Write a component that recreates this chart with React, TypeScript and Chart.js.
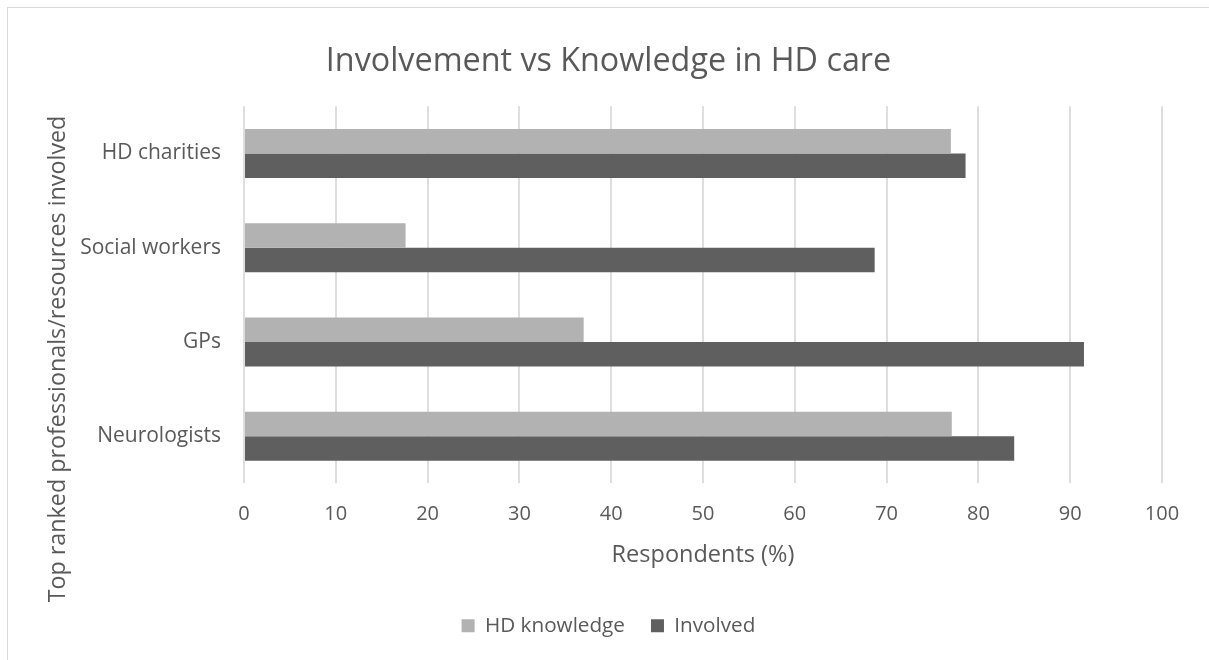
import React, { useEffect, useRef } from "react";
import { Chart, registerables } from "chart.js";

Chart.register(...registerables);

const categories = ["HD charities", "Social workers", "GPs", "Neurologists"];
const hdKnowledge = [77.0, 17.6, 37.0, 77.1];
const involved = [78.6, 68.7, 91.5, 83.9];
const xTicks = [0, 10, 20, 30, 40, 50, 60, 70, 80, 90, 100];

const TEXT = "#595959";
const FONT = "'Open Sans', 'Noto Sans', sans-serif";

export default function App() {
  const ref = useRef<HTMLCanvasElement | null>(null);

  useEffect(() => {
    if (!ref.current) return;
    const yTitlePlugin = {
      id: "yTitleCustom",
      afterDraw(chart: any) {
        const ctx = chart.ctx;
        ctx.save();
        ctx.translate(58, 359);
        ctx.rotate(-Math.PI / 2);
        ctx.textAlign = "center";
        ctx.textBaseline = "middle";
        ctx.fillStyle = TEXT;
        ctx.font = `23.3px ${FONT}`;
        ctx.fillText("Top ranked professionals/resources involved", 0, 0);
        ctx.restore();
      },
    };
    const chart = new Chart(ref.current, {
      type: "bar",
      data: {
        labels: categories,
        datasets: [
          {
            label: "HD knowledge",
            data: hdKnowledge,
            backgroundColor: "#b2b2b2",
            borderWidth: 0,
            categoryPercentage: 0.52,
            barPercentage: 1,
          },
          {
            label: "Involved",
            data: involved,
            backgroundColor: "#5f5f5f",
            borderWidth: 0,
            categoryPercentage: 0.52,
            barPercentage: 1,
          },
        ],
      },
      options: {
        indexAxis: "y",
        animation: false,
        responsive: false,
        devicePixelRatio: 1,
        layout: { padding: { left: 8, right: 0, top: 0, bottom: 14 } },
        plugins: {
          title: {
            display: true,
            text: "Involvement vs Knowledge in HD care",
            color: TEXT,
            font: { family: FONT, size: 32.3, weight: "normal" },
            padding: { top: 42, bottom: 25.6 },
          },
          legend: {
            position: "bottom",
            labels: {
              color: TEXT,
              font: { family: FONT, size: 20.7 },
              boxWidth: 13,
              boxHeight: 13,
              padding: 26,
            },
          },
          tooltip: { enabled: false },
        },
        scales: {
          x: {
            type: "linear",
            min: 0,
            max: 100,
            afterBuildTicks(scale: any) {
              scale.ticks = xTicks.map((v) => ({ value: v }));
            },
            ticks: {
              color: TEXT,
              font: { family: FONT, size: 20 },
              padding: 19,
            },
            grid: { color: "#dedede", lineWidth: 2, drawTicks: false },
            border: { display: false },
            title: {
              display: true,
              text: "Respondents (%)",
              color: TEXT,
              font: { family: FONT, size: 23.5 },
              padding: { top: 0, bottom: 20 },
            },
            afterFit(scale: any) {
              scale.height = 106;
            },
          },
          y: {
            type: "category",
            grid: { display: false, drawTicks: false },
            border: { display: false },
            ticks: {
              color: TEXT,
              font: { family: FONT, size: 21 },
              padding: 23,
            },
            afterFit(scale: any) {
              scale.width = 236;
            },
          },
          y2: {
            type: "category",
            position: "right",
            labels: categories,
            grid: { display: false, drawTicks: false },
            border: { display: false },
            ticks: { display: false },
            afterFit(scale: any) {
              scale.width = 47;
            },
          },
        },
      },
      plugins: [yTitlePlugin],
    } as any);
    return () => chart.destroy();
  }, []);

  return (
    <div
      style={{
        position: "fixed",
        left: 0,
        top: 0,
        width: 1209,
        height: 660,
        background: "#ffffff",
        overflow: "hidden",
      }}
    >
      <div
        style={{
          position: "absolute",
          left: 7,
          top: 7,
          width: 1220,
          height: 670,
          borderLeft: "1px solid #d9d9d9",
          borderTop: "1px solid #d9d9d9",
        }}
      />
      <canvas
        ref={ref}
        width={1209}
        height={660}
        style={{ position: "absolute", left: 0, top: 0, width: 1209, height: 660 }}
      />
    </div>
  );
}
